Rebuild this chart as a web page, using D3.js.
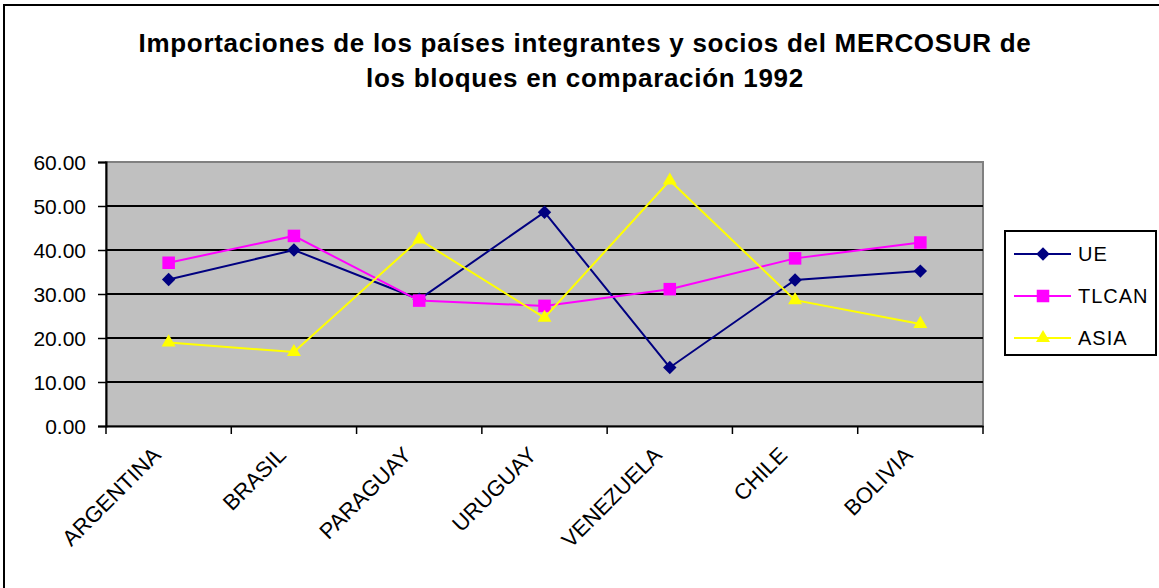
<!DOCTYPE html>
<html><head><meta charset="utf-8">
<script src="https://cdn.jsdelivr.net/npm/d3@7"></script>
<style>body{margin:0;background:#fff}svg{display:block;font-family:Arial,"Liberation Sans",sans-serif}</style>
</head><body><svg id="c" width="1159" height="588"></svg>
<script>
const categories = ["ARGENTINA","BRASIL","PARAGUAY","URUGUAY","VENEZUELA","CHILE","BOLIVIA"];
const ue    = [33.3, 40.0, 28.8, 48.6, 13.3, 33.2, 35.2];
const tlcan = [37.1, 43.2, 28.5, 27.3, 31.1, 38.1, 41.7];
const asia  = [19.0, 16.8, 42.4, 24.6, 55.8, 28.6, 23.2];
const yTicks = [0,10,20,30,40,50,60];
const seriesNames = ["UE","TLCAN","ASIA"];
const titleLines = ["Importaciones de los países integrantes y socios del MERCOSUR de","los bloques en comparación 1992"];

const series = [
  {name: seriesNames[0], values: ue, color: "#000080", sym: d3.symbolDiamond2, size: 115},
  {name: seriesNames[1], values: tlcan, color: "#FF00FF", sym: d3.symbolSquare2, size: 200},
  {name: seriesNames[2], values: asia, color: "#FFFF00", sym: d3.symbolTriangle2, size: 140}
];

const svg = d3.select("#c");
// outer chart border
svg.append("rect").attr("x",4).attr("y",5).attr("width",1300).attr("height",800)
  .attr("fill","#fff").attr("stroke","#000").attr("stroke-width",2);

const L=106, R=983, T=162, B=426;
const x = d3.scaleBand().domain(categories).range([L,R]);
const y = d3.scaleLinear().domain([0,60]).range([B,T]);

// title
const tt = svg.append("text").attr("text-anchor","middle").attr("font-weight","bold")
  .attr("font-size",26).attr("letter-spacing",0.7).attr("fill","#000");
titleLines.forEach((t,i)=>tt.append("tspan").attr("x",585).attr("y",52+i*35).text(t));

// plot area
svg.append("rect").attr("x",L).attr("y",T).attr("width",R-L).attr("height",B-T)
  .attr("fill","#C0C0C0").attr("stroke","#808080").attr("stroke-width",2);

// gridlines
svg.append("g").selectAll("line").data(yTicks.filter(v=>v>0&&v<60)).join("line")
  .attr("x1",L).attr("x2",R).attr("y1",d=>y(d)).attr("y2",d=>y(d))
  .attr("stroke","#000").attr("stroke-width",2);

// y axis
const ya = svg.append("g").attr("transform",`translate(${L},0)`)
  .call(d3.axisLeft(y).tickValues(yTicks).tickFormat(d3.format(".2f")).tickSize(8).tickPadding(12));
ya.select(".domain").attr("stroke","#000").attr("stroke-width",2);
ya.selectAll(".tick line").attr("stroke","#000").attr("stroke-width",1.5);
ya.selectAll(".tick text").attr("font-size",21).attr("font-family","Arial, 'Liberation Sans', sans-serif").attr("fill","#000").attr("dy","0.35em");

// x axis
const xa = svg.append("g").attr("transform",`translate(0,${B})`)
  .call(d3.axisBottom(x).tickSize(0).tickFormat(""));
xa.select(".domain").attr("stroke","#000").attr("stroke-width",2);
const bounds = categories.map(c=>x(c)).concat([R]);
xa.append("g").selectAll("line").data(bounds).join("line")
  .attr("x1",d=>d).attr("x2",d=>d).attr("y1",0).attr("y2",8).attr("stroke","#000").attr("stroke-width",1.5);
svg.append("g").selectAll("text").data(categories).join("text")
  .attr("transform",d=>`translate(${x(d)+x.bandwidth()/2-12},${B+25}) rotate(-45)`)
  .attr("text-anchor","end").attr("font-size",22).attr("fill","#000").attr("dy","0.35em").text(d=>d);

// lines & markers
const line = d3.line().x((d,i)=>x(categories[i])+x.bandwidth()/2).y(d=>y(d));
series.forEach(s=>{
  svg.append("path").datum(s.values).attr("d",line).attr("fill","none")
    .attr("stroke",s.color).attr("stroke-width",2);
  svg.append("g").selectAll("path").data(s.values).join("path")
    .attr("transform",(d,i)=>`translate(${x(categories[i])+x.bandwidth()/2},${y(d)})`)
    .attr("d",d3.symbol(s.sym,s.size)).attr("fill",s.color);
});

// legend
svg.append("rect").attr("x",1005).attr("y",231).attr("width",151).attr("height",124)
  .attr("fill","#fff").attr("stroke","#000").attr("stroke-width",2);
const lg = svg.append("g").selectAll("g").data(series).join("g")
  .attr("transform",(d,i)=>`translate(0,${254+i*42})`);
lg.append("line").attr("x1",1014).attr("x2",1071).attr("stroke",d=>d.color).attr("stroke-width",2);
lg.append("path").attr("transform","translate(1043,0)").attr("d",d=>d3.symbol(d.sym,d.size)()).attr("fill",d=>d.color);
lg.append("text").attr("x",1078).attr("dy","0.35em").attr("font-size",20).attr("letter-spacing",1).attr("fill","#000").text(d=>d.name);
</script></body></html>
